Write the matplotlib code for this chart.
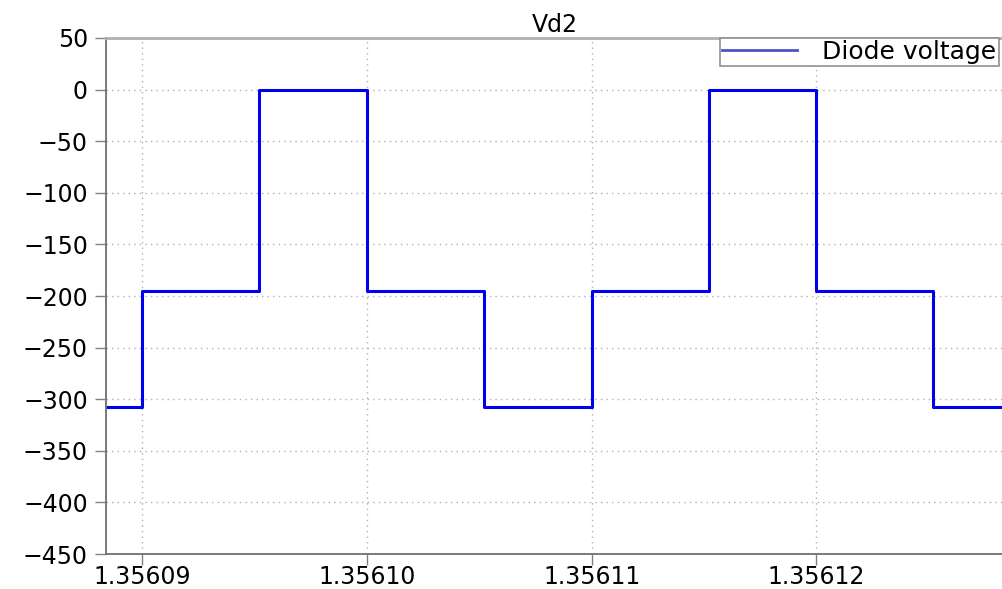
import matplotlib
matplotlib.use("Agg")
import matplotlib.pyplot as plt
from matplotlib.ticker import FormatStrFormatter

# switching instants of the diode waveform (s) and the voltage held after each
t_switch = [1.3560884, 1.35609, 1.3560952, 1.35610, 1.3561052,
            1.35611, 1.3561152, 1.35612, 1.3561252, 1.3561283]
v_diode = [-308, -195, 0, -195, -308, -195, 0, -195, -308, -308]

x_ticks = [1.35609, 1.35610, 1.35611, 1.35612]
y_ticks = list(range(-450, 51, 50))

plt.rcParams['font.family'] = 'DejaVu Sans'

fig = plt.figure(figsize=(10.03, 5.89), dpi=100)
ax = fig.add_axes([0.1057, 0.0594, 0.8943, 0.8761])

ax.step(t_switch, v_diode, where='post', color='#0000ee', lw=2.2,
        label='Diode voltage')

ax.set_xlim(t_switch[0], t_switch[-1])
ax.set_ylim(-450, 50)
ax.set_xticks(x_ticks)
ax.set_yticks(y_ticks)
ax.xaxis.set_major_formatter(FormatStrFormatter('%.5f'))

ax.grid(True, ls=(0, (1, 3)), color='#b0b0b0', lw=1)
ax.tick_params(axis='both', direction='out', length=8, width=1,
               color='#808080', labelsize=17)
ax.tick_params(axis='y', pad=5)
ax.tick_params(axis='x', pad=0)

for side in ('left', 'bottom'):
    ax.spines[side].set_color('#707070')
    ax.spines[side].set_linewidth(1.3)
ax.spines['top'].set_color('#b0b0b0')
ax.spines['top'].set_linewidth(2)
ax.spines['right'].set_visible(False)

ax.set_title('Vd2', fontsize=17, pad=4)

leg = ax.legend(loc='upper right', bbox_to_anchor=(0.995, 1.0),
                borderaxespad=0, fancybox=False, framealpha=1,
                edgecolor='#909090', fontsize=18, handlelength=3.0,
                handletextpad=1.0, borderpad=0.08)
leg.get_frame().set_linewidth(1.2)
leg.get_lines()[0].set_color('#5050c8')
leg.get_lines()[0].set_linewidth(2)

fig.savefig('out.png', dpi=100)
